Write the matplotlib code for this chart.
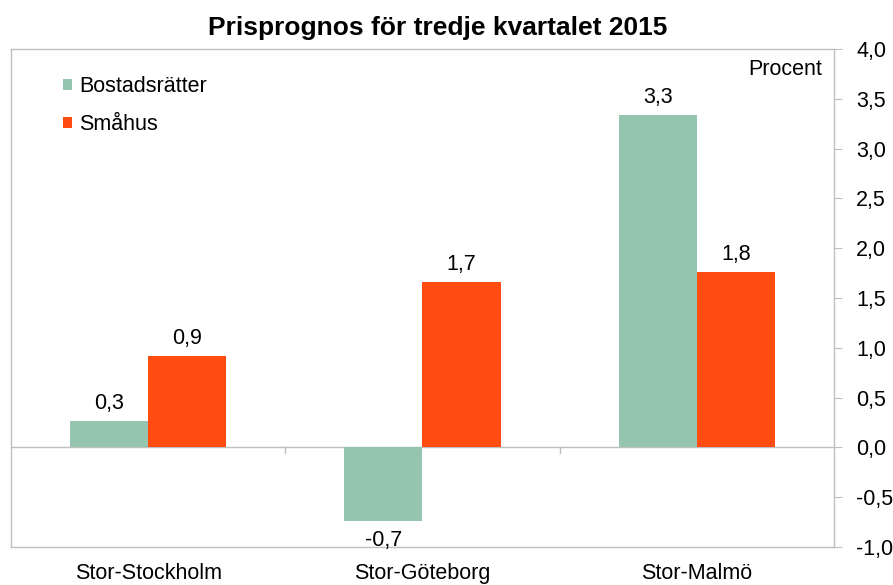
import matplotlib
matplotlib.use("Agg")
import matplotlib.pyplot as plt
import numpy as np

plt.rcParams['font.family'] = ['Liberation Sans', 'DejaVu Sans']

categories = ["Stor-Stockholm", "Stor-Göteborg", "Stor-Malmö"]
bostadsratter = [0.27, -0.74, 3.34]
smahus = [0.92, 1.66, 1.76]
series_names = ["Bostadsrätter", "Småhus"]
yticks = [-1.0, -0.5, 0.0, 0.5, 1.0, 1.5, 2.0, 2.5, 3.0, 3.5, 4.0]

c_green = "#95C4AF"
c_orange = "#FF4C11"
gray = "#BFBFBF"
fs = 15.5

fig = plt.figure(figsize=(8.93, 5.85), dpi=100)
ax = fig.add_axes([11/893, 38/585, (834-11)/893, (547-49)/585])

x = np.arange(len(categories))
w = 0.285
ax.bar(x - w/2, bostadsratter, w, color=c_green, label=series_names[0], zorder=2)
ax.bar(x + w/2, smahus, w, color=c_orange, label=series_names[1], zorder=2)

for xi, v in zip(x - w/2, bostadsratter):
    txt = f"{v:.1f}".replace(".", ",")
    if v >= 0:
        ax.text(xi, v + 0.07, txt, ha="center", va="bottom", fontsize=fs)
    else:
        ax.text(xi, v - 0.09, txt, ha="center", va="top", fontsize=fs)
for xi, v in zip(x + w/2, smahus):
    txt = f"{v:.1f}".replace(".", ",")
    ax.text(xi, v + 0.07, txt, ha="center", va="bottom", fontsize=fs)

ax.set_xlim(-0.5, 2.5)
ax.set_ylim(-1.0, 4.0)
ax.set_yticks(yticks)
ax.set_yticklabels([f"{t:.1f}".replace(".", ",") for t in yticks], fontsize=fs)
ax.yaxis.tick_right()
ax.tick_params(axis="y", direction="out", length=6, color=gray, pad=10)
ax.set_xticks([])

for s in ax.spines.values():
    s.set_color(gray)
    s.set_linewidth(1.0)

ax.axhline(0, color=gray, lw=1.0, zorder=1)
for b in [0.5, 1.5]:
    ax.plot([b, b], [0, -0.06], color=gray, lw=1.0, zorder=1, clip_on=False)

for xi, c in zip(x, categories):
    ax.text(xi, -1.16, c, ha="center", va="top", fontsize=fs)

ax.text(0.985, 0.98, "Procent", transform=ax.transAxes, ha="right", va="top", fontsize=fs)

leg = ax.legend(loc="upper left", bbox_to_anchor=(0.04, 0.985), frameon=False,
                fontsize=fs, handlelength=0.4, handleheight=0.4, handletextpad=0.35,
                labelspacing=0.8)

fig.text(438/893, 1 - 28/585, "Prisprognos för tredje kvartalet 2015", ha="center", va="center",
         fontsize=19, fontweight="bold")

fig.savefig("out.png", dpi=100)
